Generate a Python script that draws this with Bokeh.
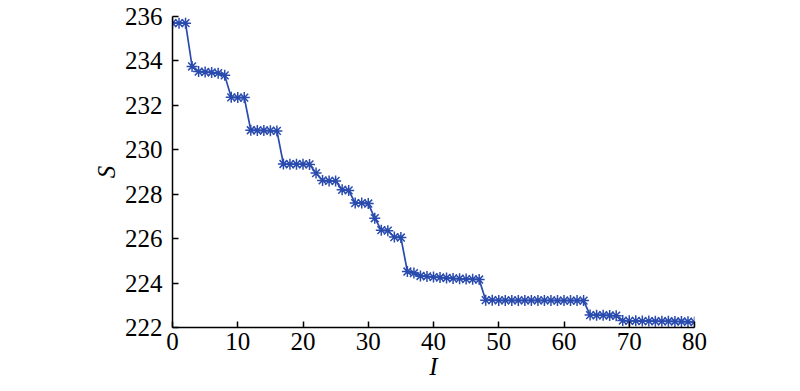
from bokeh.plotting import figure
from bokeh.models import Range1d, FixedTicker
from bokeh.embed import file_html
from bokeh.resources import INLINE

iterations = list(range(0, 81))
s_values = [
    235.70, 235.70, 235.70,                      # 0-2
    233.75,                                      # 3
    233.52, 233.50, 233.48, 233.45,              # 4-7
    233.35,                                      # 8
    232.36, 232.35, 232.35,                      # 9-11
    230.88, 230.87, 230.87, 230.86, 230.85,      # 12-16
    229.36, 229.35, 229.35, 229.35, 229.34,      # 17-21
    228.95,                                      # 22
    228.62, 228.60, 228.60,                      # 23-25
    228.20, 228.17,                              # 26-27
    227.60, 227.60, 227.58,                      # 28-30
    226.92,                                      # 31
    226.38, 226.36,                              # 32-33
    226.07, 226.05,                              # 34-35
    224.52, 224.45,                              # 36-37
    224.32, 224.30, 224.27, 224.25, 224.23, 224.21, 224.20, 224.18, 224.17, 224.16,  # 38-47
    223.23, 223.23, 223.22, 223.22, 223.22, 223.22, 223.22, 223.22,
    223.22, 223.22, 223.22, 223.21, 223.21, 223.21, 223.21, 223.21,  # 48-63
    222.56, 222.55, 222.55, 222.54, 222.53,      # 64-68
    222.31, 222.30, 222.30, 222.29, 222.29, 222.28,
    222.28, 222.28, 222.27, 222.27, 222.26, 222.25,  # 69-80
]
x_ticks = [0, 10, 20, 30, 40, 50, 60, 70, 80]
y_ticks = [222, 224, 226, 228, 230, 232, 234, 236]

p = figure(
    frame_width=522, frame_height=311,
    min_border_left=172, min_border_right=90,
    min_border_top=16, min_border_bottom=56,
    x_range=Range1d(0, 80), y_range=Range1d(222, 236),
    output_backend="svg", toolbar_location=None,
)
p.outline_line_color = None
p.xgrid.visible = False
p.ygrid.visible = False
p.background_fill_color = "white"
p.border_fill_color = "white"

line_color = "#2A4BAE"
p.line(iterations, s_values, line_color=line_color, line_width=1.7)
p.scatter(iterations, s_values, marker="asterisk", size=11,
          line_color=line_color, line_width=1.5)

serif = "Times New Roman"
for ax in (p.xaxis[0], p.yaxis[0]):
    ax.axis_line_color = "black"
    ax.axis_line_width = 1.5
    ax.major_tick_in = 6
    ax.major_tick_out = 0
    ax.major_tick_line_width = 1.5
    ax.major_tick_line_color = "black"
    ax.minor_tick_line_color = None
    ax.major_label_text_font = serif
    ax.major_label_text_font_size = "25px"
    ax.major_label_text_color = "black"
    ax.axis_label_text_font = serif
    ax.axis_label_text_font_size = "25px"
    ax.axis_label_text_font_style = "italic"
    ax.axis_label_text_color = "black"

p.xaxis.ticker = FixedTicker(ticks=x_ticks)
p.yaxis.ticker = FixedTicker(ticks=y_ticks)
p.xaxis.axis_label = "I"
p.yaxis.axis_label = "S"
p.xaxis.major_label_standoff = 5
p.yaxis.major_label_standoff = 10
p.xaxis.axis_label_standoff = 0
p.yaxis.axis_label_standoff = 2

open("out.html", "w").write(file_html(p, INLINE))
